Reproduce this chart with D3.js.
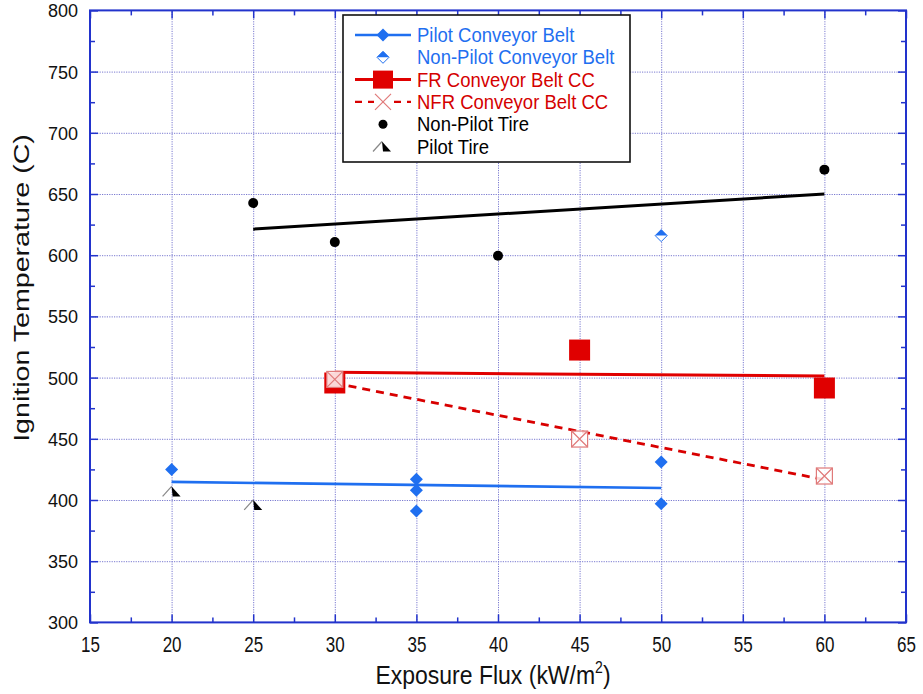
<!DOCTYPE html>
<html>
<head>
<meta charset="utf-8">
<script src="https://cdn.jsdelivr.net/npm/d3@7"></script>
<style>
  body { margin: 0; background: #fff; }
  svg { display: block; font-family: "Liberation Sans", Arial, sans-serif; }
</style>
</head>
<body>
<svg id="chart" width="923" height="694"></svg>
<script>
// ---------------- DATA ----------------
const xTicks = [15, 20, 25, 30, 35, 40, 45, 50, 55, 60, 65];
const yTicks = [300, 350, 400, 450, 500, 550, 600, 650, 700, 750, 800];

const pilotCBx = [20, 35, 35, 35, 50, 50];
const pilotCBy = [425, 417, 408, 391, 431, 397];
const pilotCBfitX = [20, 50];
const pilotCBfitY = [414.8, 409.8];

const nonPilotCBx = [50];
const nonPilotCBy = [616];

const frCCx = [30, 45, 60];
const frCCy = [495.6, 522.5, 491.5];
const frCCfitX = [30, 60];
const frCCfitY = [504.3, 501.3];

const nfrCCx = [30, 45, 60];
const nfrCCy = [498.5, 449.8, 419.6];
const nfrCCfitX = [30, 60];
const nfrCCfitY = [495.4, 416.6];

const nonPilotTireX = [25, 30, 40, 60];
const nonPilotTireY = [642.6, 610.7, 599.5, 669.9];
const nonPilotTireFitX = [25, 60];
const nonPilotTireFitY = [621.3, 650];

const pilotTireX = [20, 25];
const pilotTireY = [407, 396];

const legendLabels = ["Pilot Conveyor Belt", "Non-Pilot Conveyor Belt", "FR Conveyor Belt CC",
                      "NFR Conveyor Belt CC", "Non-Pilot Tire", "Pilot Tire"];

// ---------------- STYLE ----------------
const BLUE = "#1f6ff0";
const RED = "#e00000";
const AXIS = "#2233cc";
const GRID = "#7a7ad0";

const svg = d3.select("#chart");
const L = 90, R = 906, T = 10.4, B = 622.4;
const x = d3.scaleLinear().domain([15, 65]).range([L, R]);
const y = d3.scaleLinear().domain([300, 800]).range([B, T]);
const zip = (a, b) => a.map((v, i) => [v, b[i]]);

// grid
const gx = svg.append("g").attr("transform", `translate(0,${B})`)
  .call(d3.axisBottom(x).tickValues(xTicks.slice(1, -1)).tickSize(-(B - T)).tickFormat(""));
const gy = svg.append("g").attr("transform", `translate(${L},0)`)
  .call(d3.axisLeft(y).tickValues(yTicks.slice(1, -1)).tickSize(-(R - L)).tickFormat(""));
[gx, gy].forEach(g => {
  g.select(".domain").remove();
  g.selectAll("line").attr("stroke", GRID).attr("stroke-width", 1).attr("stroke-dasharray", "1.2,1.2");
});

// ticks (inward) on all sides
const xMinor = d3.range(17.5, 65, 5);
const yMinor = d3.range(325, 800, 50);
function tickAxis(axisFn, scale, vals, size, tr) {
  const g = svg.append("g").attr("transform", tr)
    .call(axisFn(scale).tickValues(vals).tickSize(size).tickFormat(""));
  g.select(".domain").remove();
  g.selectAll("line").attr("stroke", AXIS).attr("stroke-width", 1.5);
}
tickAxis(d3.axisBottom, x, xTicks, -8, `translate(0,${B})`);
tickAxis(d3.axisBottom, x, xMinor, -5, `translate(0,${B})`);
tickAxis(d3.axisTop, x, xTicks, -8, `translate(0,${T})`);
tickAxis(d3.axisTop, x, xMinor, -5, `translate(0,${T})`);
tickAxis(d3.axisLeft, y, yTicks, -8, `translate(${L},0)`);
tickAxis(d3.axisLeft, y, yMinor, -5, `translate(${L},0)`);
tickAxis(d3.axisRight, y, yTicks, -8, `translate(${R},0)`);
tickAxis(d3.axisRight, y, yMinor, -5, `translate(${R},0)`);

// tick labels
const xl = svg.append("g").attr("transform", `translate(0,${B})`)
  .call(d3.axisBottom(x).tickValues(xTicks).tickSize(0).tickPadding(12));
xl.select(".domain").remove();
xl.selectAll("text").attr("font-size", 17).attr("fill", "#111")
  .attr("font-family", "Liberation Sans, Arial, sans-serif")
  .attr("transform", "scale(1,1.25)");
const yl = svg.append("g").attr("transform", `translate(${L},0)`)
  .call(d3.axisLeft(y).tickValues(yTicks).tickSize(0).tickPadding(12));
yl.select(".domain").remove();
yl.selectAll("text").attr("font-size", 18).attr("fill", "#111")
  .attr("font-family", "Liberation Sans, Arial, sans-serif")
  .attr("dy", "0.36em");

// axis titles
const xt = svg.append("text").attr("transform", `translate(${(L + R) / 2 - 5},684) scale(1,1.15)`)
  .attr("text-anchor", "middle").attr("font-size", 23).attr("fill", "#111");
xt.append("tspan").text("Exposure Flux (kW/m");
xt.append("tspan").text("2").attr("font-size", 14).attr("dy", -10);
xt.append("tspan").text(")").attr("dy", 10);
svg.append("text").attr("transform", `translate(29,288) rotate(-90) scale(1.3,1)`)
  .attr("text-anchor", "middle").attr("font-size", 22).attr("fill", "#111")
  .text("Ignition Temperature (C)");

// ---------------- MARKS ----------------
const line = d3.line().x(d => x(d[0])).y(d => y(d[1]));
const plot = svg.append("g");

function diamond(g, cx, cy, s, fill) {
  g.append("path").attr("d", `M${cx},${cy - s}L${cx + s},${cy}L${cx},${cy + s}L${cx - s},${cy}Z`)
    .attr("fill", fill);
}
function halfDiamond(g, cx, cy, s) {
  g.append("path").attr("d", `M${cx},${cy - s}L${cx + s},${cy}L${cx},${cy + s}L${cx - s},${cy}Z`)
    .attr("fill", "#fff").attr("stroke", BLUE).attr("stroke-width", 1);
  g.append("path").attr("d", `M${cx},${cy - s}L${cx + s},${cy}L${cx - s},${cy}Z`).attr("fill", BLUE);
}
function xBox(g, cx, cy, s, box) {
  if (box) g.append("rect").attr("x", cx - s).attr("y", cy - s).attr("width", 2 * s).attr("height", 2 * s)
    .attr("fill", "#fff").attr("fill-opacity", 0.85).attr("stroke", "#e07a7a").attr("stroke-width", 1.2);
  g.append("path").attr("d", `M${cx - s},${cy - s}L${cx + s},${cy + s}M${cx + s},${cy - s}L${cx - s},${cy + s}`)
    .attr("stroke", "#e07a7a").attr("stroke-width", 1.2).attr("fill", "none");
}
function pilotTire(g, cx, cy) {
  g.append("path").attr("d", `M${cx - 9},${cy + 5}L${cx},${cy - 5}`)
    .attr("stroke", "#888").attr("stroke-width", 1.2);
  g.append("path").attr("d", `M${cx},${cy - 5}L${cx + 9},${cy + 5}L${cx + 1},${cy + 5}Z`).attr("fill", "#000");
}

// FR
plot.append("path").datum(zip(frCCfitX, frCCfitY)).attr("d", line)
  .attr("fill", "none").attr("stroke", RED).attr("stroke-width", 3);
zip(frCCx, frCCy).forEach(d => plot.append("rect")
  .attr("x", x(d[0]) - 10.5).attr("y", y(d[1]) - 10.5).attr("width", 21).attr("height", 21).attr("fill", RED));
// NFR
plot.append("path").datum(zip(nfrCCfitX, nfrCCfitY)).attr("d", line)
  .attr("fill", "none").attr("stroke", "#d80000").attr("stroke-width", 2.8).attr("stroke-dasharray", "8,6");
zip(nfrCCx, nfrCCy).forEach(d => xBox(plot, x(d[0]), y(d[1]), 8, true));
// Tire fit
plot.append("path").datum(zip(nonPilotTireFitX, nonPilotTireFitY)).attr("d", line)
  .attr("fill", "none").attr("stroke", "#000").attr("stroke-width", 3);
zip(nonPilotTireX, nonPilotTireY).forEach(d => plot.append("circle")
  .attr("cx", x(d[0])).attr("cy", y(d[1])).attr("r", 5).attr("fill", "#000"));
// Pilot CB
plot.append("path").datum(zip(pilotCBfitX, pilotCBfitY)).attr("d", line)
  .attr("fill", "none").attr("stroke", BLUE).attr("stroke-width", 2.6);
zip(pilotCBx, pilotCBy).forEach(d => diamond(plot, x(d[0]), y(d[1]), 6.5, BLUE));
zip(nonPilotCBx, nonPilotCBy).forEach(d => halfDiamond(plot, x(d[0]), y(d[1]), 6));
zip(pilotTireX, pilotTireY).forEach(d => pilotTire(plot, x(d[0]), y(d[1])));

// frame
svg.append("rect").attr("x", L).attr("y", T).attr("width", R - L).attr("height", B - T)
  .attr("fill", "none").attr("stroke", AXIS).attr("stroke-width", 2);

// ---------------- LEGEND ----------------
const lg = svg.append("g");
lg.append("rect").attr("x", 343).attr("y", 15).attr("width", 287).attr("height", 147)
  .attr("fill", "#fff").attr("stroke", "#111").attr("stroke-width", 1.6);
const rowY = i => 35 + i * 22.3;
const sx0 = 355, sx1 = 411, sc = 383, tx = 417;
const legendColors = [BLUE, BLUE, "#d40000", "#d40000", "#000", "#000"];
legendLabels.forEach((t, i) => lg.append("text").attr("transform", `translate(${tx},${rowY(i) + 7}) scale(1,1.08)`)
  .attr("font-size", 18.5).attr("fill", legendColors[i]).text(t));
lg.append("line").attr("x1", sx0).attr("x2", sx1).attr("y1", rowY(0)).attr("y2", rowY(0))
  .attr("stroke", BLUE).attr("stroke-width", 2.6);
diamond(lg, sc, rowY(0), 6.5, BLUE);
halfDiamond(lg, sc, rowY(1), 6);
lg.append("line").attr("x1", sx0).attr("x2", sx1).attr("y1", rowY(2)).attr("y2", rowY(2))
  .attr("stroke", RED).attr("stroke-width", 3);
lg.append("rect").attr("x", sc - 10).attr("y", rowY(2) - 9).attr("width", 20).attr("height", 18).attr("fill", RED);
lg.append("line").attr("x1", sx0).attr("x2", sx1).attr("y1", rowY(3)).attr("y2", rowY(3))
  .attr("stroke", "#d80000").attr("stroke-width", 2.4).attr("stroke-dasharray", "7,6");
lg.append("rect").attr("x", sc - 9).attr("y", rowY(3) - 9).attr("width", 18).attr("height", 18).attr("fill", "#fff");
xBox(lg, sc, rowY(3), 8, false);
lg.append("circle").attr("cx", sc).attr("cy", rowY(4)).attr("r", 4.5).attr("fill", "#000");
pilotTire(lg, sc - 1, rowY(5));
</script>
</body>
</html>
